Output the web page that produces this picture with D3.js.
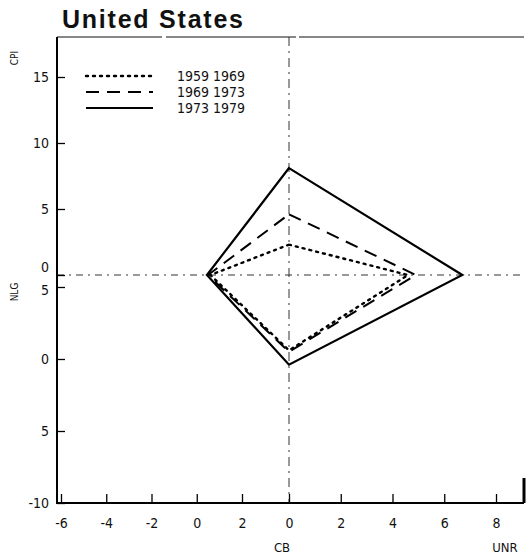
<!DOCTYPE html>
<html>
<head>
<meta charset="utf-8">
<script src="https://cdn.jsdelivr.net/npm/d3@7"></script>
<style>
body { margin: 0; background: #fff; }
text { font-family: "Liberation Sans Narrow", "DejaVu Sans Condensed", sans-serif; fill: #111; }
</style>
</head>
<body>
<svg id="chart" width="526" height="560"></svg>
<script>
// one diamond per period: CPI up, UNR right, NLG down, CB left
const periods = ["1959 1969", "1969 1973", "1973 1979"];
const cpi = [2.3, 4.6, 8.1];
const unr = [4.6, 4.9, 6.7];
const nlg = [0.6, 0.5, -0.4];
const cb = [0.6, 0.5, 0.45];

const cpiTicks = [0, 5, 10, 15];
const nlgTicks = [5, 0, -5, -10];
const nlgLabels = ["5", "0", "5", "-10"];
const cbTicks = [-6, -4, -2, 0, 2];
const cbLabels = ["-6", "-4", "-2", "0", "2"];
const unrTicks = [0, 2, 4, 6, 8];

const styles = [
  {dash: "2,5", width: 2.4, cap: "round"},
  {dash: "13,8", width: 2, cap: "butt"},
  {dash: null, width: 2.2, cap: "butt"}
];

const svg = d3.select("#chart");
const frameL = 57, frameR = 524, frameT = 37, frameB = 503;

const yCpi = d3.scaleLinear().domain([0, 15]).range([275, 77]);
const yNlg = d3.scaleLinear().domain([5, -10]).range([287, 503]);
const xCb = d3.scaleLinear().domain([-6, 2]).range([61, 242]);
const xUnr = d3.scaleLinear().domain([0, 8]).range([289, 496]);

const cx = xUnr(0), cy = yCpi(0);

// title
svg.append("text")
  .attr("x", 62).attr("y", 28)
  .attr("textLength", 181)
  .style("font-family", "'Liberation Sans', Arial, sans-serif")
  .style("font-weight", "bold")
  .style("font-size", "25px")
  .text("United States");

// frame
svg.append("line")
  .attr("x1", frameL).attr("x2", frameR).attr("y1", frameT).attr("y2", frameT)
  .attr("stroke", "#111").attr("stroke-width", 1.2)
  .attr("stroke-dasharray", "105,4,130,3,230");
svg.append("line")
  .attr("x1", frameR).attr("x2", frameR).attr("y1", 478).attr("y2", frameB)
  .attr("stroke", "#000").attr("stroke-width", 3);

// cross lines through the origin
svg.append("line")
  .attr("x1", frameL).attr("x2", frameR).attr("y1", cy).attr("y2", cy)
  .attr("stroke", "#333").attr("stroke-width", 1)
  .attr("stroke-dasharray", "7,5,2,5");
svg.append("line")
  .attr("x1", cx).attr("x2", cx).attr("y1", frameT).attr("y2", frameB)
  .attr("stroke", "#333").attr("stroke-width", 1)
  .attr("stroke-dasharray", "9,5,2,5");

// left axes
svg.append("g")
  .attr("transform", `translate(${frameL},0)`)
  .call(d3.axisLeft(yCpi).tickValues(cpiTicks).tickSizeInner(-8).tickSizeOuter(0).tickPadding(8))
  .call(g => g.select(".domain").remove())
  .call(g => g.selectAll(".tick text").filter(d => d === 0).attr("dy", "-0.25em"));
svg.append("g")
  .attr("transform", `translate(${frameL},0)`)
  .call(d3.axisLeft(yNlg).tickValues(nlgTicks).tickSizeInner(-8).tickSizeOuter(0).tickPadding(8)
    .tickFormat((d, i) => nlgLabels[i]))
  .call(g => g.select(".domain").remove())
  .call(g => g.selectAll(".tick text").filter(d => d === 5).attr("dy", "0.5em"));

// bottom axes
svg.append("g")
  .attr("transform", `translate(0,${frameB})`)
  .call(d3.axisBottom(xCb).tickValues(cbTicks).tickSizeInner(-9).tickSizeOuter(0).tickPadding(15)
    .tickFormat((d, i) => cbLabels[i]))
  .call(g => g.select(".domain").remove());
svg.append("g")
  .attr("transform", `translate(0,${frameB})`)
  .call(d3.axisBottom(xUnr).tickValues(unrTicks).tickSizeInner(-9).tickSizeOuter(0).tickPadding(15))
  .call(g => g.select(".domain").remove());

svg.selectAll(".tick line").attr("stroke", "#000").attr("stroke-width", 1.3);
svg.selectAll(".tick text").style("font-size", "14px")
  .style("font-family", "'Liberation Sans Narrow', 'DejaVu Sans Condensed', sans-serif");

svg.append("line")
  .attr("x1", frameL).attr("x2", frameL).attr("y1", frameT).attr("y2", frameB + 1)
  .attr("stroke", "#000").attr("stroke-width", 2);
svg.append("line")
  .attr("x1", frameL).attr("x2", frameR).attr("y1", frameB).attr("y2", frameB)
  .attr("stroke", "#000").attr("stroke-width", 2);

// axis names
svg.append("text")
  .attr("transform", "translate(18,58) rotate(-90)")
  .attr("text-anchor", "middle")
  .style("font-size", "10px")
  .text("CPI");
svg.append("text")
  .attr("transform", "translate(18,292) rotate(-90)")
  .attr("text-anchor", "middle")
  .style("font-size", "10px")
  .text("NLG");
svg.append("text")
  .attr("x", 282).attr("y", 552)
  .attr("text-anchor", "middle")
  .style("font-size", "13px")
  .text("CB");
svg.append("text")
  .attr("x", 505).attr("y", 552)
  .attr("text-anchor", "middle")
  .style("font-size", "13px")
  .text("UNR");

// diamonds
const line = d3.line().curve(d3.curveLinearClosed);
periods.forEach((p, i) => {
  const pts = [
    [cx, yCpi(cpi[i])],
    [xUnr(unr[i]), cy],
    [cx, yNlg(nlg[i])],
    [xCb(cb[i]), cy]
  ];
  svg.append("path")
    .attr("d", line(pts))
    .attr("fill", "none")
    .attr("stroke", "#000")
    .attr("stroke-width", styles[i].width)
    .attr("stroke-linecap", styles[i].cap)
    .attr("stroke-linejoin", "miter")
    .attr("stroke-dasharray", styles[i].dash);
});

// legend
const legend = svg.append("g");
periods.forEach((p, i) => {
  const y = 76 + i * 16;
  legend.append("line")
    .attr("x1", 86).attr("x2", 153).attr("y1", y).attr("y2", y)
    .attr("stroke", "#000")
    .attr("stroke-width", styles[i].width)
    .attr("stroke-linecap", styles[i].cap)
    .attr("stroke-dasharray", styles[i].dash);
  legend.append("text")
    .attr("x", 177).attr("y", y + 5)
    .style("font-size", "14px")
    .text(p);
});
</script>
</body>
</html>
